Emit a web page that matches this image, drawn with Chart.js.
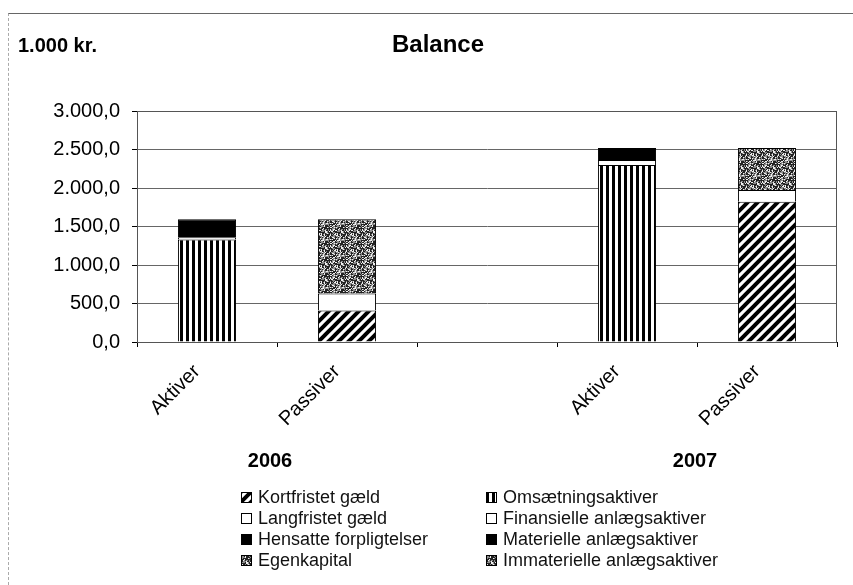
<!DOCTYPE html>
<html>
<head>
<meta charset="utf-8">
<script src="https://cdn.jsdelivr.net/npm/chart.js@4.4.1/dist/chart.umd.min.js"></script>
<style>
  html, body { margin: 0; padding: 0; background: #fff; }
  #wrap { position: relative; width: 853px; height: 585px; overflow: hidden; font-family: "Liberation Sans", Arial, sans-serif; }
  #frame { position: absolute; left: 8px; top: 13px; right: 0; bottom: 0; border-top: 1px solid #666; border-left: 1px dashed #aaa; }
  #chart { position: absolute; left: 0; top: 0; }
  #legend { position: absolute; left: 241px; top: 487px; display: grid; grid-template-columns: 245px 300px; font-size: 18px; color: #111; }
  .item { display: flex; align-items: center; height: 21px; white-space: nowrap; }
  .item canvas { width: 11px; height: 11px; margin-right: 6px; }
</style>
</head>
<body>
<div id="wrap">
  <div id="frame"></div>
  <canvas id="chart" width="853" height="585"></canvas>
  <div id="legend"></div>
</div>
<script>
// categories: Aktiver / Passiver for 2006 and 2007, with an empty gap between the years
const categories = ['Aktiver', 'Passiver', '', 'Aktiver', 'Passiver'];
const years = ['2006', '2007'];
const yTicks = [0, 500, 1000, 1500, 2000, 2500, 3000];

// Passiver (1.000 kr.)
const kortfristet = [null, 410, null, null, 1820];
const langfristet = [null, 220, null, null, 155];
const hensatte = [null, null, null, null, null];
const egenkapital = [null, 965, null, null, 545];
// Aktiver (1.000 kr.)
const omsaetning = [1330, null, null, 2300, null];
const finansielle = [30, null, null, 65, null];
const materielle = [235, null, null, 155, null];
const immaterielle = [null, null, null, null, null];

// pattern tiles
function makeTile(kind) {
    const c = document.createElement('canvas');
    const ctx = c.getContext('2d');
    if (kind === 'vstripe') {
        c.width = 6; c.height = 6;
        ctx.fillStyle = '#fff'; ctx.fillRect(0, 0, 6, 6);
        ctx.fillStyle = '#000'; ctx.fillRect(0, 0, 3, 6);
    } else if (kind === 'hatch') {
        c.width = 10; c.height = 10;
        ctx.fillStyle = '#fff'; ctx.fillRect(0, 0, 10, 10);
        ctx.strokeStyle = '#000'; ctx.lineWidth = 4;
        ctx.beginPath();
        ctx.moveTo(-5, 15); ctx.lineTo(15, -5);
        ctx.moveTo(-5, 5); ctx.lineTo(5, -5);
        ctx.moveTo(5, 15); ctx.lineTo(15, 5);
        ctx.stroke();
    } else if (kind === 'speckle') {
        c.width = 16; c.height = 16;
        for (let y = 0; y < 16; y++) {
            for (let x = 0; x < 16; x++) {
                const h = (((x * 73856093) ^ (y * 19349663) ^ (x * y * 83492791)) >>> 0) % 100;
                ctx.fillStyle = h < 42 ? '#222' : (h < 78 ? '#8c8c8c' : '#eee');
                ctx.fillRect(x, y, 1, 1);
            }
        }
    } else {
        c.width = 2; c.height = 2;
        ctx.fillStyle = kind; ctx.fillRect(0, 0, 2, 2);
    }
    return c;
}

const mainCtx = document.getElementById('chart').getContext('2d');
const fills = {
    hatch: mainCtx.createPattern(makeTile('hatch'), 'repeat'),
    vstripe: mainCtx.createPattern(makeTile('vstripe'), 'repeat'),
    speckle: mainCtx.createPattern(makeTile('speckle'), 'repeat'),
    black: '#000',
    white: '#fff'
};

const series = [
    { label: 'Kortfristet gæld', data: kortfristet, fill: 'hatch', col: 0 },
    { label: 'Langfristet gæld', data: langfristet, fill: 'white', col: 0 },
    { label: 'Hensatte forpligtelser', data: hensatte, fill: 'black', col: 0 },
    { label: 'Egenkapital', data: egenkapital, fill: 'speckle', col: 0 },
    { label: 'Omsætningsaktiver', data: omsaetning, fill: 'vstripe', col: 1 },
    { label: 'Finansielle anlægsaktiver', data: finansielle, fill: 'white', col: 1 },
    { label: 'Materielle anlægsaktiver', data: materielle, fill: 'black', col: 1 },
    { label: 'Immaterielle anlægsaktiver', data: immaterielle, fill: 'speckle', col: 1 }
];

function fmt(v) {
    const s = Math.round(v).toString().replace(/\B(?=(\d{3})+(?!\d))/g, '.');
    return s + ',0';
}

const FONT = '"Liberation Sans", Arial, sans-serif';

const textPlugin = {
    id: 'texts',
    beforeDatasetsDraw(chart) {
        const a = chart.chartArea;
        const ctx = chart.ctx;
        ctx.save();
        ctx.strokeStyle = '#555';
        ctx.lineWidth = 1;
        ctx.strokeRect(a.left + 0.5, a.top + 0.5, a.right - a.left - 1, a.bottom - a.top);
        ctx.restore();
    },
    afterDraw(chart) {
        const ctx = chart.ctx;
        const xs = chart.scales.x;
        ctx.save();
        ctx.fillStyle = '#000';
        ctx.textBaseline = 'middle';
        ctx.font = 'bold 24px ' + FONT;
        ctx.textAlign = 'center';
        ctx.fillText('Balance', 438, 45);
        ctx.font = 'bold 20px ' + FONT;
        ctx.textAlign = 'left';
        ctx.fillText('1.000 kr.', 18, 46);
        ctx.textAlign = 'center';
        const g1 = (xs.getPixelForValue(0) + xs.getPixelForValue(1)) / 2;
        const g2 = (xs.getPixelForValue(3) + xs.getPixelForValue(4)) / 2;
        ctx.fillText(years[0], g1 - 7, 461);
        ctx.fillText(years[1], g2 - 2, 461);
        ctx.restore();
    }
};

new Chart(mainCtx, {
    type: 'bar',
    data: {
        labels: categories,
        datasets: series.map(s => ({
            label: s.label,
            data: s.data,
            backgroundColor: fills[s.fill],
            borderColor: '#000',
            borderWidth: 1,
            barPercentage: 0.415,
            categoryPercentage: 1
        }))
    },
    options: {
        responsive: false,
        animation: false,
        layout: { padding: { left: 0, right: 16, top: 111, bottom: 0 } },
        plugins: {
            legend: { display: false },
            title: { display: false },
            tooltip: { enabled: false }
        },
        scales: {
            x: {
                stacked: true,
                afterFit(scale) { scale.height = 585 - 342; },
                grid: { display: true, drawOnChartArea: false, drawTicks: true, tickLength: 5, color: '#000' },
                border: { color: '#000' },
                ticks: {
                    minRotation: 45, maxRotation: 45,
                    color: '#000', padding: 13, labelOffset: -10,
                    font: { family: FONT, size: 20 }
                }
            },
            y: {
                stacked: true,
                min: 0, max: 3000,
                afterFit(scale) { scale.width = 137; },
                afterBuildTicks(scale) { scale.ticks = yTicks.map(v => ({ value: v })); },
                grid: { color: '#666', tickLength: 5, tickColor: '#000' },
                border: { color: '#000' },
                ticks: {
                    color: '#000', padding: 12,
                    font: { family: FONT, size: 20 },
                    callback: v => fmt(v)
                }
            }
        }
    },
    plugins: [textPlugin]
});

// legend: two columns, passiver items left, aktiver items right
const legendEl = document.getElementById('legend');
const cols = [series.filter(s => s.col === 0), series.filter(s => s.col === 1)];
for (let r = 0; r < 4; r++) {
    for (let c = 0; c < 2; c++) {
        const s = cols[c][r];
        const item = document.createElement('div');
        item.className = 'item';
        const sw = document.createElement('canvas');
        sw.width = 11; sw.height = 11;
        const sctx = sw.getContext('2d');
        sctx.fillStyle = sctx.createPattern(makeTile(s.fill === 'black' ? '#000' : s.fill === 'white' ? '#fff' : s.fill), 'repeat');
        sctx.fillRect(0, 0, 11, 11);
        sctx.strokeStyle = '#000';
        sctx.lineWidth = 1;
        sctx.strokeRect(0.5, 0.5, 10, 10);
        item.appendChild(sw);
        item.appendChild(document.createTextNode(s.label));
        legendEl.appendChild(item);
    }
}
</script>
</body>
</html>
